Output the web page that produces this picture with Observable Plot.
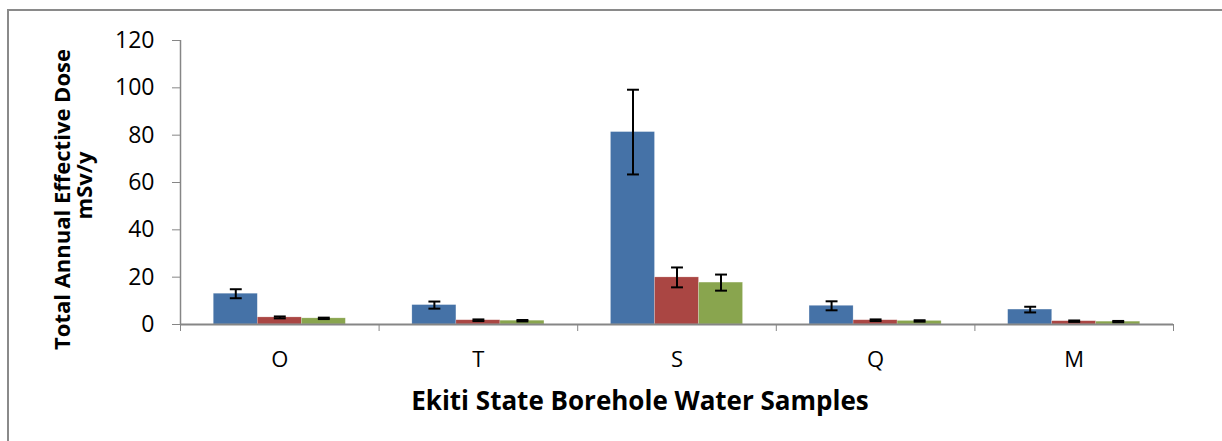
<!DOCTYPE html>
<html>
<head>
<meta charset="utf-8">
<script src="https://cdn.jsdelivr.net/npm/d3@7"></script>
<script src="https://cdn.jsdelivr.net/npm/@observablehq/plot@0.6"></script>
<style>
  html, body { margin: 0; padding: 0; background: #fff; overflow: hidden; }
  #wrap { position: relative; width: 1222px; height: 441px; }
  #border { position: absolute; left: 7px; top: 9px; width: 1240px; height: 460px; border: 2px solid #8a8a8a; box-sizing: border-box; pointer-events: none; }
</style>
</head>
<body>
<div id="wrap"><div id="border"></div></div>
<script>
const categories = ["O", "T", "S", "Q", "M"];
const seriesNames = ["Series 1", "Series 2", "Series 3"];
const seriesColors = ["#4572A7", "#AA4643", "#89A54E"];
const series1 = [13.0, 8.2, 81.3, 7.9, 6.3];
const series2 = [3.0, 1.8, 19.9, 1.8, 1.4];
const series3 = [2.6, 1.6, 17.7, 1.5, 1.2];
const series1Err = [1.9, 1.5, 17.9, 1.9, 1.2];
const series2Err = [0.4, 0.35, 4.2, 0.35, 0.3];
const series3Err = [0.3, 0.3, 3.4, 0.3, 0.3];
const yTicks = [0, 20, 40, 60, 80, 100, 120];
const yLabelLine1 = "Total Annual Effective Dose";
const yLabelLine2 = "mSv/y";
const xLabel = "Ekiti State Borehole Water Samples";

const values = [series1, series2, series3];
const errs = [series1Err, series2Err, series3Err];
const rows = [];
categories.forEach((c, i) => {
  seriesNames.forEach((s, j) => {
    rows.push({cat: c, ci: i, series: s, si: j, value: values[j][i], err: errs[j][i]});
  });
});

const groupFrac = 0.665;                 // share of the category occupied by bars
const barFrac = groupFrac / seriesNames.length;
const left = d => d.ci + (1 - groupFrac) / 2 + d.si * barFrac;
const mid = d => left(d) + barFrac / 2;
const capHalf = 0.03;

const font = "'Open Sans', 'Liberation Sans', sans-serif";

const chart = Plot.plot({
  width: 1222,
  height: 441,
  marginLeft: 180,
  marginRight: 49,
  marginTop: 40,
  marginBottom: 117,
  style: {fontFamily: font, background: "transparent", color: "black", overflow: "visible"},
  x: {domain: [0, categories.length], axis: null},
  y: {domain: [0, 120], axis: null},
  color: {domain: seriesNames, range: seriesColors},
  marks: [
    Plot.rectY(rows, {x1: left, x2: d => left(d) + barFrac, y1: 0, y2: "value", fill: "series", stroke: "white", strokeOpacity: 0.35, strokeWidth: 0.6}),
    Plot.link(rows, {x1: mid, x2: mid, y1: d => d.value - d.err, y2: d => d.value + d.err, stroke: "black", strokeWidth: 2}),
    Plot.link(rows, {x1: d => mid(d) - capHalf, x2: d => mid(d) + capHalf, y1: d => d.value + d.err, y2: d => d.value + d.err, stroke: "black", strokeWidth: 2}),
    Plot.link(rows, {x1: d => mid(d) - capHalf, x2: d => mid(d) + capHalf, y1: d => d.value - d.err, y2: d => d.value - d.err, stroke: "black", strokeWidth: 2}),
    Plot.axisY({ticks: yTicks, label: null, tickSize: 8, tickPadding: 18, stroke: "#868686", fill: "black", fontSize: 23}),
    Plot.axisX({ticks: d3.range(categories.length + 1), label: null, tickSize: 7, tickFormat: () => "", stroke: "#868686"}),
    Plot.axisX({ticks: categories.map((c, i) => i + 0.5), label: null, tickSize: 0, tickPadding: 27, tickFormat: v => categories[Math.round(v - 0.5)], fontSize: 22, fill: "black"}),
    Plot.ruleX([0], {stroke: "#868686", strokeWidth: 1.5}),
    Plot.ruleY([0], {stroke: "#868686", strokeWidth: 2}),
    Plot.text([yLabelLine1], {frameAnchor: "left", textAnchor: "middle", lineAnchor: "middle", dx: -118, dy: 17, rotate: -90, fontSize: 22, fontWeight: "bold", fill: "black"}),
    Plot.text([yLabelLine2], {frameAnchor: "left", textAnchor: "middle", lineAnchor: "middle", dx: -96, dy: 3, rotate: -90, fontSize: 22, fontWeight: "bold", fill: "black"}),
    Plot.text([xLabel], {frameAnchor: "bottom", textAnchor: "middle", lineAnchor: "middle", dx: -37, dy: 77, fontSize: 26, fontWeight: "bold", fill: "black"})
  ]
});
document.getElementById("wrap").appendChild(chart);
chart.style.position = "absolute";
chart.style.left = "0px";
chart.style.top = "0px";
</script>
</body>
</html>
